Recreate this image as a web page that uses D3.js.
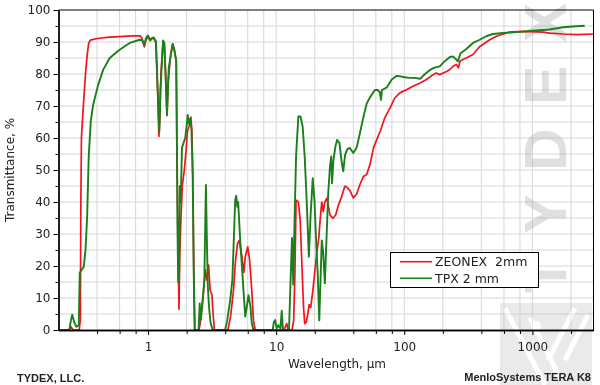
<!DOCTYPE html>
<html><head><meta charset="utf-8">
<script src="https://cdn.jsdelivr.net/npm/d3@7"></script>
<style>body{margin:0;background:#fff}svg{display:block}</style>
</head><body>
<svg id="c" width="600" height="385"></svg>
<script>
// ---- data (wavelength in μm, transmittance in %) ----
const zeonexWl = [0.2,0.24,0.25,0.26,0.29,0.296,0.299,0.302,0.306,0.315,0.325,0.335,0.344,0.355,0.4,0.5,0.6,0.75,0.87,0.9,0.935,0.96,0.985,1.02,1.04,1.07,1.106,1.15,1.19,1.215,1.235,1.26,1.31,1.34,1.37,1.405,1.44,1.5,1.556,1.6,1.66,1.68,1.71,1.745,1.765,1.8,1.85,1.92,1.98,2.03,2.1,2.16,2.2,2.24,2.28,2.32,2.5,2.55,2.59,2.7,2.8,2.88,2.97,3.05,3.15,3.22,3.3,4.2,4.4,4.65,4.8,4.99,5.15,5.4,5.6,5.75,6.0,6.2,6.45,6.65,6.86,11.5,12.1,12.4,13.3,13.7,14.0,14.3,14.9,15.4,15.9,16.35,16.7,17.2,17.6,18.1,18.6,19.3,20.0,20.8,21.5,22.1,22.7,23.3,24.0,24.9,25.5,26.3,27.8,29.2,30.6,32.4,34.4,36,37.6,40,42.5,45,48,50.9,54,57.5,61,64.9,70.5,77.5,84.3,92.5,104,117,133,149,168,178,189,214,227,240,255,265,272,290,305,344,388,410,465,523,593,660,850,1220,1363,1737,2210,3000];
const zeonexT  = [0,0,1,0,0,3,40,60,64,72,80,86,89.6,90.6,91.1,91.5,91.7,91.9,91.9,91,88.5,90.5,91.5,91,90.4,91,91.2,89.8,74,60.5,66,80,90.2,89.5,80,67,78,86,89.5,88,84,55,28,6.5,22,33,45,50,56,62,64,66.5,62,46,15,0,0,2,5,11.5,18.8,15.6,20.3,12.5,11,5,0,0,4,12.5,21,27,28,23,18,23,26,22,12.5,3,0,0,2,0,0,3,17,40.6,40,34.4,20,7.3,2,2.5,4.7,7.9,7,12,18,24.5,28.7,34.9,40,37,40,41.2,39,35.9,34.9,36,39,41.6,45,44.5,43.6,41.3,42.5,45.4,48,48.6,51.7,56.9,59.5,62.1,66.3,69.4,72.5,74.1,75.1,76.2,77.2,78.3,79.8,80.3,79.8,80.8,81.4,82.4,83,81.9,84,84.6,85,86.1,88.6,89.2,90.7,91.8,92.5,93.1,93.3,93.1,92.8,92.5,92.3,92.5];

const tpxWl = [0.2,0.243,0.25,0.256,0.265,0.276,0.288,0.293,0.3,0.315,0.325,0.335,0.344,0.357,0.373,0.408,0.446,0.502,0.6,0.719,0.86,0.9,0.936,0.96,0.982,1.0,1.04,1.07,1.106,1.154,1.19,1.225,1.25,1.27,1.31,1.34,1.37,1.406,1.45,1.556,1.6,1.66,1.68,1.7,1.72,1.735,1.75,1.77,1.8,1.84,1.95,2.01,2.04,2.08,2.14,2.18,2.23,2.27,2.31,2.48,2.53,2.58,2.65,2.75,2.83,2.87,2.93,2.99,3.08,3.2,4.0,4.15,4.38,4.55,4.65,4.79,4.88,4.98,5.05,5.24,5.45,5.6,5.74,5.9,6.08,6.3,6.45,6.65,9.4,9.6,9.83,10.1,10.4,10.8,11.05,11.3,12.6,13.0,13.3,13.6,13.9,14.3,14.9,15.5,16.1,16.7,17.3,18.0,18.6,19.3,19.9,20.6,21.1,21.7,22.2,22.7,23.3,24.0,24.7,25.5,26.3,26.9,27.3,28,29,29.9,31.2,32.3,33.4,34.5,36,37.6,40,42.5,45,48,50.9,54,59,62,64.5,65.8,67,73.1,79.8,87,95,101,110,121,133,145,158,170,189,207,227,240,255,262,275,305,344,388,436,491,593,751,1000,1363,1737,2210,2560];
const tpxT  = [0,0,3,4.8,2.5,1,1.5,17.8,18.5,19.8,25,35.9,53.8,65.2,70.4,76.6,81.3,85,87.6,89.7,90.7,90.5,89,91,91.8,92,90.6,91.2,91.4,90.2,74.6,62,75,80,90.5,89.7,80,67.3,81.9,89.2,87.6,84,60,30,15,35,18,45,40,57,60,64.6,67.2,64.6,66.1,63,49,20,0,0,8.3,3.1,7.3,15.6,45.3,31,13.5,7.3,2.1,0,0,3,9.4,15.6,26,40.6,42,38.5,40,28.1,17.7,10.4,4.2,7.3,10.9,7.3,2.1,0,0,2.5,3.1,0.5,1.5,0.5,6,0,0,17.3,28.8,14.2,33.3,54.2,66.7,66.7,63.5,54.2,40.6,22.9,36.5,47.4,40.6,26,17.7,3,15.6,28,24,14.6,28.2,42.8,51.1,54.2,45.9,53.1,57.3,59.4,58.4,53.1,49.6,54.7,56.5,56.9,55.3,57,61.4,66.6,70.8,72.7,75,75,74.3,71.9,75,75.8,78.3,79.4,79.2,79,78.8,78.8,78.5,80,81.2,81.9,82.4,84,85.3,85.5,84.5,83.9,86.5,87.8,89.7,90.7,91.8,92.5,92.8,93.1,93.5,93.9,94.6,94.9,95.1];

const seriesNames = ["ZEONEX  2mm", "TPX 2 mm"];
const seriesColors = ["#f0141e", "#1b7f1b"];
const xMajorTicks = [1, 10, 100, 1000];
const xMinorTicks = [0.4,0.6,0.8,2,4,6,8,20,40,60,80,200,400,600,800,2000];
const yMajorTicks = [0,10,20,30,40,50,60,70,80,90,100];
const yMinorTicks = [5,15,25,35,45,55,65,75,85,95];

// ---- layout ----
const L = 58.5, R = 593.5, T = 10, B = 330;
const svg = d3.select("#c");
const x = d3.scaleLog().domain([0.2, 3000]).range([L, R]);
const y = d3.scaleLinear().domain([0, 100]).range([B, T]);
const font = "'DejaVu Sans', sans-serif";

// grid
const g = svg.append("g");
g.selectAll("line.v").data(xMinorTicks.concat(xMajorTicks)).enter().append("line")
  .attr("x1", d => x(d)).attr("x2", d => x(d)).attr("y1", T).attr("y2", B)
  .attr("stroke", "#d6d6d6").attr("stroke-width", 1);
g.selectAll("line.h").data(yMajorTicks.concat(yMinorTicks).filter(d => d > 0 && d < 100)).enter().append("line")
  .attr("x1", L).attr("x2", R).attr("y1", d => y(d)).attr("y2", d => y(d))
  .attr("stroke", "#d6d6d6").attr("stroke-width", 1);

// watermark
const wm = svg.append("g").attr("opacity", 0.36);
wm.append("text").attr("transform", "translate(566,293) rotate(-90)")
  .attr("font-family", "'Liberation Sans', Arial, sans-serif").attr("font-weight", "bold")
  .attr("font-size", 59).attr("fill", "#a8a8a8")
  .attr("textLength", 290).attr("lengthAdjust", "spacing").text("TYDEX");
wm.append("rect").attr("x", 500).attr("y", 303).attr("width", 92).attr("height", 82).attr("fill", "#c4c4c4");
wm.append("path").attr("d", "M505,308 L545,385 M530,318 L560,378 M575,308 L548,360 M588,315 L565,360")
  .attr("stroke", "#fff").attr("stroke-width", 5).attr("fill", "none");
wm.append("circle").attr("cx", 536).attr("cy", 326).attr("r", 5).attr("fill", "#fff");

// curves
const line = d3.line().x(d => x(d[0])).y(d => y(d[1]));
const zeonex = zeonexWl.map((w, i) => [w, zeonexT[i]]);
const tpx = tpxWl.map((w, i) => [w, tpxT[i]]);
svg.append("path").datum(zeonex).attr("d", line).attr("fill", "none")
  .attr("stroke", seriesColors[0]).attr("stroke-width", 1.7).attr("stroke-linejoin", "round");
svg.append("path").datum(tpx).attr("d", line).attr("fill", "none")
  .attr("stroke", seriesColors[1]).attr("stroke-width", 1.9).attr("stroke-linejoin", "round");

// frame
svg.append("line").attr("x1", L).attr("x2", R).attr("y1", T).attr("y2", T).attr("stroke", "#000");
svg.append("line").attr("x1", R).attr("x2", R).attr("y1", T).attr("y2", B).attr("stroke", "#000");

// axes
function styleAxis(sel) {
  sel.select(".domain").attr("stroke", "#000").attr("stroke-width", 1.3);
  sel.selectAll(".tick line").attr("stroke", "#000");
  sel.selectAll("text").attr("font-family", font).attr("font-size", 12).attr("fill", "#222");
}
svg.append("g").attr("transform", `translate(0,${B})`)
  .call(d3.axisBottom(x).tickValues(xMinorTicks).tickSize(4).tickSizeOuter(0).tickFormat(""))
  .call(styleAxis);
svg.append("g").attr("transform", `translate(0,${B})`)
  .call(d3.axisBottom(x).tickValues(xMajorTicks).tickSize(5).tickPadding(7).tickSizeOuter(0).tickFormat(d3.format("d")))
  .call(styleAxis);
svg.append("g").attr("transform", `translate(${L},0)`)
  .call(d3.axisLeft(y).tickValues(yMinorTicks).tickSize(3).tickSizeOuter(0).tickFormat(""))
  .call(styleAxis);
svg.append("g").attr("transform", `translate(${L},0)`)
  .call(d3.axisLeft(y).tickValues(yMajorTicks).tickSize(5).tickPadding(3).tickSizeOuter(0).tickFormat(d3.format("d")))
  .call(styleAxis);

// axis titles
svg.append("text").attr("transform", `translate(14,170) rotate(-90)`).attr("text-anchor", "middle")
  .attr("font-family", font).attr("font-size", 12).attr("fill", "#222").text("Transmittance, %");
svg.append("text").attr("x", 337).attr("y", 368).attr("text-anchor", "middle")
  .attr("font-family", font).attr("font-size", 12).attr("fill", "#222").text("Wavelength, μm");

// footer
svg.append("text").attr("x", 17).attr("y", 382)
  .attr("font-family", "'Liberation Sans', Arial, sans-serif").attr("font-weight", "bold")
  .attr("font-size", 11).attr("fill", "#222").text("TYDEX, LLC.");
svg.append("text").attr("x", 591).attr("y", 381).attr("text-anchor", "end")
  .attr("font-family", "'Liberation Sans', Arial, sans-serif").attr("font-weight", "bold")
  .attr("font-size", 11).attr("fill", "#222").text("MenloSystems TERA K8");

// legend
const lg = svg.append("g");
lg.append("rect").attr("x", 390.5).attr("y", 252.5).attr("width", 148).attr("height", 35)
  .attr("fill", "#fff").attr("stroke", "#000").attr("stroke-width", 1);
seriesNames.forEach((n, i) => {
  const yy = 261.7 + i * 16.6;
  lg.append("line").attr("x1", 400).attr("x2", 432).attr("y1", yy).attr("y2", yy)
    .attr("stroke", seriesColors[i]).attr("stroke-width", 1.6);
  lg.append("text").attr("x", 435).attr("y", yy + 4.5).attr("font-family", font)
    .attr("font-size", 12.5).attr("fill", "#222").style("white-space", "pre").text(n);
});
</script>
</body></html>
